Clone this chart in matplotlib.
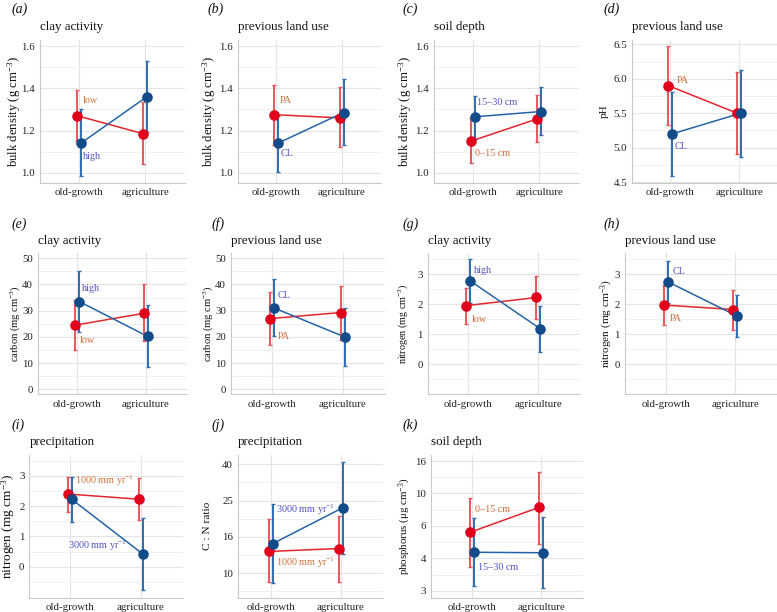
import numpy as np
import matplotlib
matplotlib.use('Agg')
import matplotlib.pyplot as plt
from matplotlib.ticker import FixedLocator, FixedFormatter, NullFormatter

plt.rcParams['font.family'] = ['Liberation Serif', 'DejaVu Serif']
plt.rcParams['mathtext.fontset'] = 'custom'
plt.rcParams['mathtext.rm'] = 'Liberation Serif'
plt.rcParams['mathtext.it'] = 'Liberation Serif:italic'
plt.rcParams['mathtext.default'] = 'regular'

categories = ['old-growth', 'agriculture']

# ---- data (red group, blue group): mean, lower, upper ----
a_red = [1.27, 1.185];  a_red_lo = [1.15, 1.04];  a_red_hi = [1.39, 1.335]
a_blue = [1.14, 1.36];  a_blue_lo = [0.985, 1.195]; a_blue_hi = [1.30, 1.53]

b_red = [1.275, 1.26];  b_red_lo = [1.13, 1.12];  b_red_hi = [1.415, 1.405]
b_blue = [1.14, 1.285]; b_blue_lo = [1.005, 1.13]; b_blue_hi = [1.27, 1.445]

c_red = [1.15, 1.255];  c_red_lo = [1.045, 1.145]; c_red_hi = [1.26, 1.37]
c_blue = [1.265, 1.29]; c_blue_lo = [1.16, 1.18];  c_blue_hi = [1.365, 1.405]

d_red = [5.9, 5.5];     d_red_lo = [5.33, 4.9];   d_red_hi = [6.48, 6.1]
d_blue = [5.2, 5.5];    d_blue_lo = [4.59, 4.87]; d_blue_hi = [5.81, 6.13]

e_red = [24.5, 29.0];   e_red_lo = [15.0, 18.5];  e_red_hi = [34.0, 40.0]
e_blue = [33.5, 20.2];  e_blue_lo = [22.0, 8.5];  e_blue_hi = [45.0, 32.0]

f_red = [27.0, 29.3];   f_red_lo = [17.0, 19.0];  f_red_hi = [37.0, 39.5]
f_blue = [31.0, 20.0];  f_blue_lo = [20.5, 9.0];  f_blue_hi = [42.0, 31.0]

g_red = [1.95, 2.22];   g_red_lo = [1.35, 1.52];  g_red_hi = [2.53, 2.92]
g_blue = [2.77, 1.18];  g_blue_lo = [2.05, 0.42]; g_blue_hi = [3.5, 1.95]

h_red = [1.97, 1.82];   h_red_lo = [1.32, 1.15];  h_red_hi = [2.62, 2.48]
h_blue = [2.74, 1.60];  h_blue_lo = [2.05, 0.90]; h_blue_hi = [3.42, 2.30]

i_red = [2.40, 2.23];   i_red_lo = [1.82, 1.53];  i_red_hi = [2.97, 2.93]
i_blue = [2.22, 0.42];  i_blue_lo = [1.48, -0.76]; i_blue_hi = [2.97, 1.62]

j_red = [13.2, 13.7];   j_red_lo = [8.9, 9.0];    j_red_hi = [19.9, 20.8]
j_blue = [14.6, 23.0];  j_blue_lo = [8.8, 12.8];  j_blue_hi = [24.2, 41.0]

k_red = [6.37, 8.80];   k_red_lo = [4.09, 5.48];  k_red_hi = [9.88, 13.94]
k_blue = [4.93, 4.90];  k_blue_lo = [3.19, 3.09]; k_blue_hi = [7.63, 7.73]

# tick labels
bd_ticks = [1.0, 1.2, 1.4, 1.6]
ph_ticks = [4.5, 5.0, 5.5, 6.0, 6.5]
c_ticks = [0, 10, 20, 30, 40, 50]
n_ticks = [0, 1, 2, 3]
cn_labels = ['10', '16', '25', '40']
p_labels = ['3', '4', '6', '10', '16']

ylab_bd = r'bulk density (g cm$^{-3}$)'
ylab_c = r'carbon (mg cm$^{-3}$)'
ylab_n = r'nitrogen (mg cm$^{-3}$)'
ylab_p = r'phosphorus ($\mu$g cm$^{-3}$)'

RED_PT, RED_ERR, RED_LN, RED_TXT = '#E0001B', '#E8555C', '#E3262E', '#D2703A'
BLUE_PT, BLUE_ERR, BLUE_LN, BLUE_TXT = '#114B8A', '#2F6DAD', '#2464A6', '#5252C4'

W, H = 777, 612
fig = plt.figure(figsize=(W / 100, H / 100), dpi=100)
fig.patch.set_facecolor('white')

panels = [
    dict(L='a', title='clay activity', ylab=ylab_bd, yls=9.2, ylx=14, left=40, og=79, ag=145, top=39.5, bot=182.7,
         ylim=(0.953, 1.631), ticks=bd_ticks, fmt='{:.1f}', minor=[1.1, 1.3, 1.5],
         red=(a_red, a_red_lo, a_red_hi), blue=(a_blue, a_blue_lo, a_blue_hi),
         rtxt=('low', 0.06, 1.34), btxt=('high', 0.065, 1.076), lx=12, ly=9),
    dict(L='b', title='previous land use', ylab=ylab_bd, yls=9.2, ylx=209, left=237.7, og=276, ag=341.7, top=39.5, bot=182.7,
         ylim=(0.953, 1.631), ticks=bd_ticks, fmt='{:.1f}', minor=[1.1, 1.3, 1.5],
         red=(b_red, b_red_lo, b_red_hi), blue=(b_blue, b_blue_lo, b_blue_hi),
         rtxt=('PA', 0.06, 1.34), btxt=('CL', 0.075, 1.09), lx=208, ly=9),
    dict(L='c', title='soil depth', ylab=ylab_bd, yls=9.2, ylx=405, left=434, og=473, ag=539, top=39.5, bot=182.7,
         ylim=(0.953, 1.631), ticks=bd_ticks, fmt='{:.1f}', minor=[1.1, 1.3, 1.5],
         red=(c_red, c_red_lo, c_red_hi), blue=(c_blue, c_blue_lo, c_blue_hi),
         rtxt=('0–15 cm', 0.03, 1.09), btxt=('15–30 cm', 0.06, 1.335), lx=403, ly=9),
    dict(L='d', title='previous land use', ylab='pH', yls=8.0, ylx=604, left=632, og=670.3, ag=739, top=39.5, bot=182.7,
         ylim=(4.49, 6.57), ticks=ph_ticks, fmt='{:.1f}', minor=[4.75, 5.25, 5.75, 6.25],
         red=(d_red, d_red_lo, d_red_hi), blue=(d_blue, d_blue_lo, d_blue_hi),
         rtxt=('PA', 0.09, 5.98), btxt=('CL', 0.07, 5.02), lx=604, ly=9),
    dict(L='e', title='clay activity', ylab=ylab_c, yls=7.6, ylx=15, left=37.7, og=77.3, ag=145.7, top=253.3, bot=394.3,
         ylim=(-1.9, 51.9), ticks=c_ticks, fmt='{:d}', minor=[5, 15, 25, 35, 45],
         red=(e_red, e_red_lo, e_red_hi), blue=(e_blue, e_blue_lo, e_blue_hi),
         rtxt=('low', 0.04, 18.8), btxt=('high', 0.07, 38.3), lx=12, ly=224),
    dict(L='f', title='previous land use', ylab=ylab_c, yls=7.6, ylx=208, left=231, og=272.3, ag=342.7, top=253.3, bot=394.3,
         ylim=(-1.9, 51.9), ticks=c_ticks, fmt='{:d}', minor=[5, 15, 25, 35, 45],
         red=(f_red, f_red_lo, f_red_hi), blue=(f_blue, f_blue_lo, f_blue_hi),
         rtxt=('PA', 0.07, 20.3), btxt=('CL', 0.08, 35.7), lx=212, ly=224),
    dict(L='g', title='clay activity', ylab=ylab_n, yls=7.3, ylx=403, left=427.7, og=468.3, ag=538.3, top=253.3, bot=394.3,
         ylim=(-1.0, 3.69), ticks=n_ticks, fmt='{:d}', minor=[-0.5, 0.5, 1.5, 2.5, 3.5],
         red=(g_red, g_red_lo, g_red_hi), blue=(g_blue, g_blue_lo, g_blue_hi),
         rtxt=('low', 0.05, 1.49), btxt=('high', 0.08, 3.13), lx=403, ly=224),
    dict(L='h', title='previous land use', ylab=ylab_n, yls=8.1, ylx=607, left=624.7, og=666, ag=735.3, top=253.3, bot=394.3,
         ylim=(-1.0, 3.69), ticks=n_ticks, fmt='{:d}', minor=[-0.5, 0.5, 1.5, 2.5, 3.5],
         red=(h_red, h_red_lo, h_red_hi), blue=(h_blue, h_blue_lo, h_blue_hi),
         rtxt=('PA', 0.05, 1.53), btxt=('CL', 0.1, 3.1), lx=604, ly=224),
    dict(L='i', title='precipitation', ylab=ylab_n, yls=9.6, ylx=8, left=29.3, og=70, ag=140.7, top=455, bot=597.5,
         ylim=(-1.02, 3.69), ticks=n_ticks, fmt='{:d}', minor=[-0.5, 0.5, 1.5, 2.5, 3.5],
         red=(i_red, i_red_lo, i_red_hi), blue=(i_blue, i_blue_lo, i_blue_hi),
         rtxt=(r'1000 mm yr$^{-1}$', 0.07, 2.83), btxt=(r'3000 mm yr$^{-1}$', -0.03, 0.7), lx=12, ly=425),
    dict(L='j', title='precipitation', ylab='C : N ratio', yls=8.1, ylx=208, left=237.7, og=271, ag=340.7, top=455, bot=597.5,
         ylim=(7.35, 45.0), log=(10, 40, cn_labels),
         red=(j_red, j_red_lo, j_red_hi), blue=(j_blue, j_blue_lo, j_blue_hi),
         rtxt=(r'1000 mm yr$^{-1}$', 0.07, 11.4), btxt=(r'3000 mm yr$^{-1}$', 0.07, 22.4), lx=212, ly=425),
    dict(L='k', title='soil depth', ylab=ylab_p, yls=7.8, ylx=405, left=431, og=471.7, ag=541, top=455, bot=597.5,
         ylim=(2.75, 17.3), log=(3, 16, p_labels),
         red=(k_red, k_red_lo, k_red_hi), blue=(k_blue, k_blue_lo, k_blue_hi),
         rtxt=('0–15 cm', 0.05, 8.58), btxt=('15–30 cm', 0.09, 4.06), lx=403, ly=425),
]

DODGE = 0.028
xpos = np.arange(len(categories))


def fx(px):
    return px / W


def fy(py):
    return 1 - py / H


def draw_group(ax, x, vals, pt, err, ln):
    m, lo, hi = (np.asarray(v, dtype=float) for v in vals)
    ax.plot(x, m, color=ln, lw=1.1, zorder=2, solid_capstyle='butt')
    ax.errorbar(x, m, yerr=[m - lo, hi - m], fmt='none', ecolor=err, elinewidth=1.4,
                capsize=1.3, capthick=1.0, zorder=3)
    ax.plot(x, m, 'o', ms=7.6, color=pt, mec='none', zorder=4)


for p in panels:
    u = p['ag'] - p['og']
    right = p['ag'] + 0.6 * u
    ax = fig.add_axes([fx(p['left']), fy(p['bot']), (right - p['left']) / W, (p['bot'] - p['top']) / H])
    ax.set_facecolor('white')
    ax.set_xlim(-(p['og'] - p['left']) / u, 1.6)
    ax.set_xticks(xpos)
    ax.set_xticklabels(categories)

    if 'log' in p:
        lo_t, hi_t, labs = p['log']
        ax.set_yscale('log')
        ticks = np.geomspace(lo_t, hi_t, len(labs))
        r = (hi_t / lo_t) ** (1 / (len(labs) - 1))
        minor = np.concatenate([[ticks[0] / np.sqrt(r)], ticks * np.sqrt(r)])
        ax.yaxis.set_major_locator(FixedLocator(ticks))
        ax.yaxis.set_major_formatter(FixedFormatter(labs))
        ax.yaxis.set_minor_locator(FixedLocator(minor))
        ax.yaxis.set_minor_formatter(NullFormatter())
    else:
        ax.yaxis.set_major_locator(FixedLocator(p['ticks']))
        ax.yaxis.set_minor_locator(FixedLocator(p['minor']))
        ax.yaxis.set_major_formatter(FixedFormatter([p['fmt'].format(t) for t in p['ticks']]))
    ax.set_ylim(*p['ylim'])

    ax.grid(True, which='major', color='#E4E4E4', lw=0.8)
    ax.grid(True, which='minor', axis='y', color='#F1F1F1', lw=0.7)
    ax.set_axisbelow(True)
    for s in ('top', 'right'):
        ax.spines[s].set_visible(False)
    for s in ('left', 'bottom'):
        ax.spines[s].set_color('#C9C9C9')
        ax.spines[s].set_linewidth(0.8)
    ax.tick_params(which='both', length=0, labelsize=7.8, colors='#222222', pad=3.5)
    ax.tick_params(axis='x', pad=4)

    draw_group(ax, xpos - DODGE, p['red'], RED_PT, RED_ERR, RED_LN)
    draw_group(ax, xpos + DODGE, p['blue'], BLUE_PT, BLUE_ERR, BLUE_LN)

    t, tx, ty = p['rtxt']
    ax.text(tx, ty, t, color=RED_TXT, fontsize=7.3, ha='left', va='center', zorder=5)
    t, tx, ty = p['btxt']
    ax.text(tx, ty, t, color=BLUE_TXT, fontsize=7.3, ha='left', va='center', zorder=5)

    fig.text(fx(p['left']), fy(p['top'] - 12.5), p['title'], fontsize=9.4, ha='left', va='center',
             color='#111111')
    fig.text(fx(p['ylx']), fy((p['top'] + p['bot']) / 2), p['ylab'], rotation=90, fontsize=p['yls'],
             ha='center', va='center', color='#111111')
    fig.text(fx(p['lx']), fy(p['ly']), f"({p['L']})", fontsize=10, style='italic', ha='left', va='center',
             color='#111111')

fig.savefig('out.png', dpi=100)
